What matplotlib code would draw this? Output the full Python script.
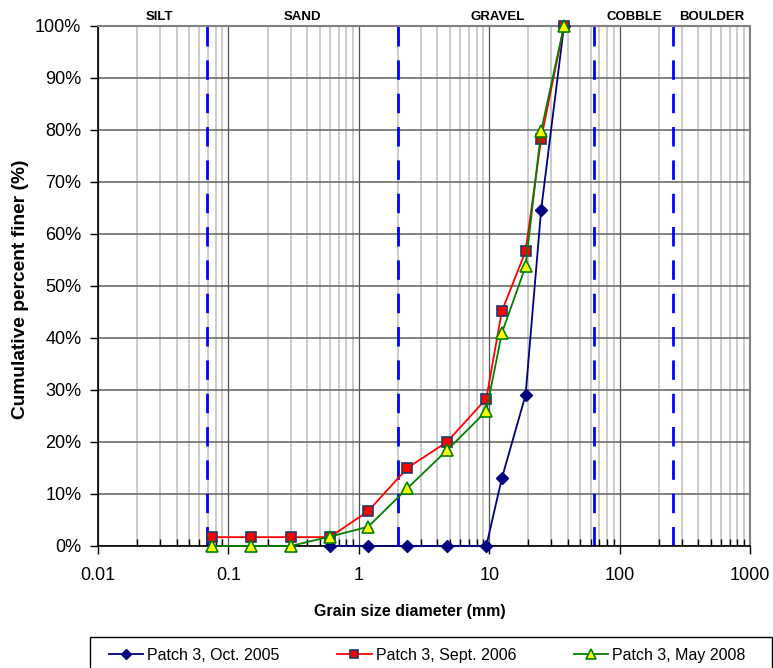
import matplotlib
matplotlib.use("Agg")
import matplotlib.pyplot as plt
from matplotlib.patches import Rectangle
from matplotlib.ticker import FixedLocator, FuncFormatter, LogLocator, NullFormatter

plt.rcParams['font.family'] = ['Liberation Sans', 'DejaVu Sans']

# sieve sizes (mm)
sizes = [0.075, 0.15, 0.3, 0.6, 1.18, 2.36, 4.75, 9.5, 12.5, 19, 25, 37.5]

# cumulative percent finer
oct_2005_sizes = [0.6, 1.18, 2.36, 4.75, 9.5, 12.5, 19, 25, 37.5]
oct_2005 = [0, 0, 0, 0, 0, 13.0, 29.0, 64.5, 100]
sept_2006 = [1.7, 1.7, 1.7, 1.7, 6.7, 15.0, 20.0, 28.3, 45.1, 56.6, 78.2, 100]
may_2008 = [0, 0, 0, 1.8, 3.7, 11.1, 18.4, 25.9, 40.9, 53.7, 79.7, 100]

# class boundaries (mm) and labels
bounds = [0.068, 2, 64, 256]
classes = ['SILT', 'SAND', 'GRAVEL', 'COBBLE', 'BOULDER']
class_x = [0.0936, 0.314, 0.613, 0.822, 0.942]

fig = plt.figure(figsize=(7.73, 6.68), dpi=100)
ax = fig.add_axes([98/773, 1-546/668, 652/773, 520.5/668])

ax.set_xscale('log')
ax.set_xlim(0.01, 1000)
ax.set_ylim(0, 100)

# grid
ax.grid(True, which='minor', axis='x', color='#c8c8c8', linewidth=1.3, zorder=0)
ax.grid(True, which='major', axis='x', color='#505050', linewidth=0.9, zorder=0)
ax.grid(True, which='major', axis='y', color='#606060', linewidth=1.1, zorder=0)
ax.set_axisbelow(True)

for b in bounds:
    ax.axvline(b, color='#0000ff', linewidth=2.0, dashes=(7, 5), zorder=1)

ax.plot(oct_2005_sizes, oct_2005, color='#000080', linewidth=1.3, marker='D',
        markersize=6, markerfacecolor='#000080', markeredgecolor='#000080',
        label='Patch 3, Oct. 2005', zorder=3, clip_on=False)
ax.plot(sizes, sept_2006, color='#ff0000', linewidth=1.3, marker='s',
        markersize=7.5, markerfacecolor='#ff0000', markeredgecolor='#1f3a68',
        markeredgewidth=1.2, label='Patch 3, Sept. 2006', zorder=4, clip_on=False)
ax.plot(sizes, may_2008, color='#008000', linewidth=1.3, marker='^',
        markersize=8.5, markerfacecolor='#ffff00', markeredgecolor='#008000',
        markeredgewidth=1.2, label='Patch 3, May 2008', zorder=5, clip_on=False)

# ticks
ax.xaxis.set_major_locator(FixedLocator([0.01, 0.1, 1, 10, 100, 1000]))
ax.xaxis.set_major_formatter(FuncFormatter(lambda v, p: ('%g' % v)))
ax.xaxis.set_minor_locator(LogLocator(base=10, subs=range(2, 10), numticks=20))
ax.xaxis.set_minor_formatter(NullFormatter())
ax.set_yticks(range(0, 101, 10))
ax.yaxis.set_major_formatter(FuncFormatter(lambda v, p: '%d%%' % v))
ax.tick_params(axis='x', which='major', direction='out', length=6, width=1, pad=9, labelsize=13)
ax.tick_params(axis='x', which='minor', direction='in', length=5, width=1)
ax.tick_params(axis='y', direction='out', length=6, width=1, pad=6, labelsize=13)

for s in ['left', 'bottom']:
    ax.spines[s].set_color('black')
    ax.spines[s].set_linewidth(1.2)
for s in ['top', 'right']:
    ax.spines[s].set_color('#808080')
    ax.spines[s].set_linewidth(1.5)

ax.set_xlabel('Grain size diameter (mm)', fontsize=11.5, fontweight='bold')
ax.xaxis.set_label_coords(0.478, -0.111)
ax.set_ylabel('Cumulative percent finer (%)', fontsize=13.8, fontweight='bold')
ax.yaxis.set_label_coords(-0.106, 0.493)

for name, xf in zip(classes, class_x):
    ax.text(xf, 1.017, name, transform=ax.transAxes, ha='center', va='center',
            fontsize=9.5, fontweight='bold')

# legend box runs past the bottom edge, as in the source image
fig.patches.append(Rectangle((90/773, -0.05), 682/773, 0.05 + 1 - 637/668,
                             transform=fig.transFigure, fill=False,
                             edgecolor='black', linewidth=1.0))
leg = ax.legend(loc='upper left', bbox_to_anchor=(109/773, 1-648/668),
                bbox_transform=fig.transFigure, ncol=3,
                fontsize=11.5, frameon=False, borderpad=0,
                borderaxespad=0, handlelength=2.15, handletextpad=0.25,
                columnspacing=3.6, markerscale=0.8)

fig.savefig('out.png', dpi=100)
